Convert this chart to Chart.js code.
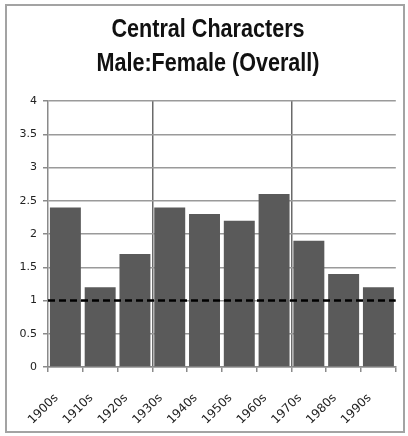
<!DOCTYPE html>
<html>
<head>
<meta charset="utf-8">
<title>Central Characters</title>
<script src="https://cdn.jsdelivr.net/npm/chart.js@4/dist/chart.umd.min.js"></script>
<style>
  html, body { margin: 0; padding: 0; background: #fff; }
  #wrap { position: relative; width: 408px; height: 436px; }
  #frame { position: absolute; left: 5px; top: 4px; width: 396px; height: 425px;
           border: 2px solid #a3a3a3; pointer-events: none; }
  canvas { position: absolute; left: 0; top: 0; }
</style>
</head>
<body>
<div id="wrap">
  <canvas id="chart" width="408" height="436"></canvas>
  <div id="frame"></div>
</div>
<script>
// Decades and the male:female ratio of central characters in each
const decades = ['1900s', '1910s', '1920s', '1930s', '1940s', '1950s', '1960s', '1970s', '1980s', '1990s'];
const ratios = [2.4, 1.2, 1.7, 2.4, 2.3, 2.2, 2.6, 1.9, 1.4, 1.2];
// Parity reference (1 male : 1 female)
const parity = 1;
const yTicks = [0, 0.5, 1, 1.5, 2, 2.5, 3, 3.5, 4];
const titleLines = ['Central Characters', 'Male:Female (Overall)'];

const yTickFont = { family: 'DejaVu Sans, Verdana, sans-serif', size: 11 };
const xTickFont = { family: 'DejaVu Sans, Verdana, sans-serif', size: 12 };

// Two-line condensed bold heading, drawn above the plot area
const condensedTitle = {
  id: 'condensedTitle',
  afterDraw(chart, args, opts) {
    const ctx = chart.ctx;
    ctx.save();
    ctx.font = 'bold 26px "Liberation Sans", Arial, sans-serif';
    ctx.fillStyle = '#111';
    ctx.textAlign = 'center';
    ctx.textBaseline = 'alphabetic';
    opts.lines.forEach((line, i) => {
      const w = ctx.measureText(line).width * opts.squeeze;
      ctx.fillText(line, opts.centerX, opts.firstBaseline + i * opts.lineGap, w);
    });
    ctx.restore();
  }
};

new Chart(document.getElementById('chart'), {
  data: {
    labels: decades,
    datasets: [
      {
        type: 'bar',
        data: ratios,
        backgroundColor: '#5a5a5a',
        borderWidth: 0,
        grouped: false,
        categoryPercentage: 1,
        barPercentage: 0.89,
        order: 2
      },
      {
        type: 'line',
        xAxisID: 'xLine',
        data: [{ x: 0, y: parity }, { x: decades.length, y: parity }],
        borderColor: '#000',
        borderWidth: 2.5,
        borderDash: [7, 4],
        pointRadius: 0,
        fill: false,
        order: 1
      }
    ]
  },
  plugins: [condensedTitle],
  options: {
    responsive: false,
    animation: false,
    layout: { padding: { left: 0, right: 8, top: 101, bottom: 0 } },
    plugins: {
      legend: { display: false },
      tooltip: { enabled: false },
      title: { display: false },
      condensedTitle: {
        lines: titleLines,
        centerX: 208,
        firstBaseline: 37,
        lineGap: 34,
        squeeze: 0.83
      }
    },
    scales: {
      x: {
        type: 'category',
        offset: true,
        grid: {
          offset: true,
          color: (ctx) => (ctx.index === 3 || ctx.index === 7) ? '#6a6a6a' : 'rgba(0,0,0,0)',
          lineWidth: 1.5,
          tickColor: '#8a8a8a',
          tickLength: 5
        },
        border: { color: '#8a8a8a', width: 1.5 },
        ticks: {
          color: '#222',
          font: xTickFont,
          maxRotation: 45,
          minRotation: 45,
          padding: 19,
          labelOffset: -9,
          autoSkip: false
        },
        afterFit: (scale) => { scale.height = 69; }
      },
      xLine: {
        type: 'linear',
        display: false,
        min: 0,
        max: decades.length
      },
      y: {
        min: 0,
        max: 4,
        afterBuildTicks: (scale) => { scale.ticks = yTicks.map(v => ({ value: v })); },
        grid: {
          color: '#9a9a9a',
          lineWidth: 1.5,
          tickColor: '#8a8a8a',
          tickLength: 5
        },
        border: { color: '#8a8a8a', width: 1.5 },
        ticks: {
          color: '#222',
          font: yTickFont,
          padding: 6,
          callback: (v) => String(v)
        },
        afterFit: (scale) => { scale.width = 48; }
      }
    }
  }
});
</script>
</body>
</html>
